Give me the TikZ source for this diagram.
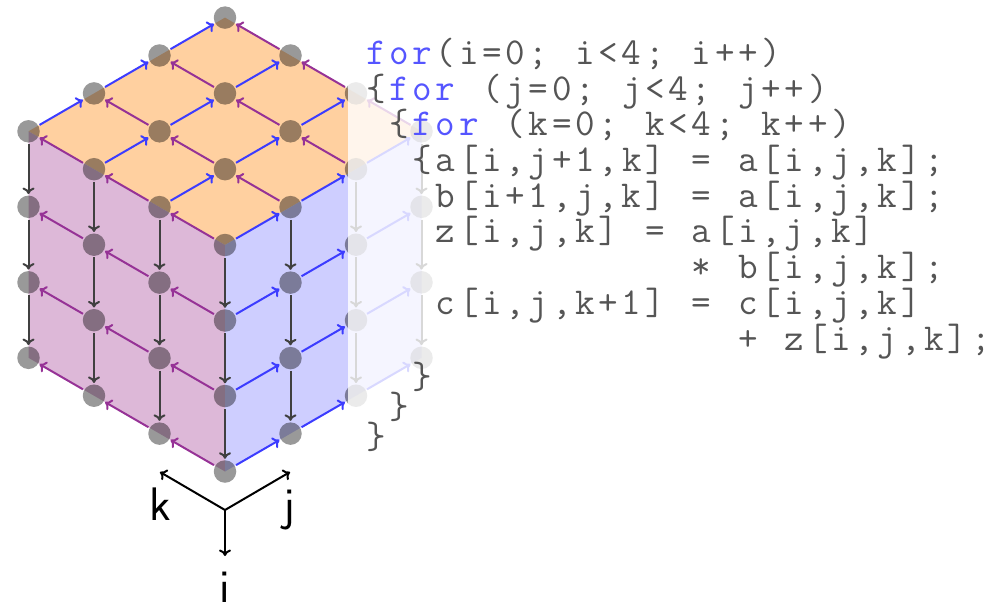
\documentclass[tikz,border=0pt]{standalone}
\usepackage{fontspec}
\usetikzlibrary{arrows.meta}
\definecolor{topc}{RGB}{255,208,160}
\definecolor{leftc}{RGB}{221,184,216}
\definecolor{rightc}{RGB}{206,206,255}
\definecolor{barrow}{RGB}{60,60,255}
\definecolor{parrow}{RGB}{150,50,150}
\definecolor{codec}{RGB}{85,85,85}
\definecolor{kwc}{RGB}{85,85,255}
\newlength\cw \setlength\cw{23.27pt}
\makeatletter
\newcommand\cl[1]{\@tfor\cc:=#1\do{\makebox[\cw][c]{\cc}}}
\makeatother
\newcommand\kw[1]{{\color{kwc}\cl{#1}}}
\tikzset{
  x=1pt,y=-1pt,
  tip/.style={-{Computer Modern Rightarrow[length=6.5pt,width=12pt]},line width=2pt},
  disc/.style={circle,fill=black,fill opacity=0.4,minimum size=22.5pt,inner sep=0pt,outer sep=1.5pt},
  jarrow/.style={tip,draw=barrow},
  karrow/.style={tip,draw=parrow},
  iarrow/.style={tip,draw=black!75},
  axisarrow/.style={tip,draw=black},
  codeline/.style={anchor=base west,inner sep=0pt,text=codec,font=\fontsize{38}{38}\selectfont\ttfamily},
  axislabel/.style={anchor=base,inner sep=0pt,text=black,font=\fontsize{47}{47}\selectfont\sffamily},
}
\begin{document}
\begin{tikzpicture}
\useasboundingbox (0,0) rectangle (1000,602);
\def\px#1#2{225+65.5*(#1-#2)}
\def\py#1#2#3{245-37.9*(#2+#3)+75.5*#1}
% faces
\fill[topc] (225,245) -- (421.5,131.3) -- (225,17.6) -- (28.5,131.3) -- cycle;
\fill[leftc] (225,245) -- (28.5,131.3) -- (28.5,357.8) -- (225,471.5) -- cycle;
\fill[rightc] (225,245) -- (421.5,131.3) -- (421.5,357.8) -- (225,471.5) -- cycle;
% nodes: left face, right face, top face
\foreach \i in {0,...,3}{
  \foreach \t in {0,...,3}{
    \node[disc] (n-\i-0-\t) at ({\px{0}{\t}},{\py{\i}{0}{\t}}) {};
    \ifnum\t>0 \node[disc] (n-\i-\t-0) at ({\px{\t}{0}},{\py{\i}{\t}{0}}) {};\fi
  }
}
\foreach \j in {1,...,3}{
  \foreach \k in {1,...,3}{
    \node[disc] (n-0-\j-\k) at ({\px{\j}{\k}},{\py{0}{\j}{\k}}) {};
  }
}
% top face arrows
\foreach \a/\b in {0/1,1/2,2/3}{
  \foreach \c in {0,...,3}{
    \draw[jarrow] (n-0-\a-\c) -- (n-0-\b-\c);
    \draw[karrow] (n-0-\c-\a) -- (n-0-\c-\b);
  }
}
% side face arrows
\foreach \p/\q in {1/1,2/2,3/3}{
  \foreach \a/\b in {0/1,1/2,2/3}{
    \draw[karrow] (n-\p-0-\a) -- (n-\p-0-\b);
    \draw[jarrow] (n-\p-\a-0) -- (n-\p-\b-0);
  }
}
\foreach \a/\b in {0/1,1/2,2/3}{
  \foreach \t in {0,...,3}{
    \draw[iarrow] (n-\a-0-\t) -- (n-\b-0-\t);
    \ifnum\t>0 \draw[iarrow] (n-\a-\t-0) -- (n-\b-\t-0);\fi
  }
}
% veil
\fill[white,opacity=0.8] (348,0) rectangle (1000,602);
% code
\node[codeline] (c1) at (364,64) {\kw{for}\cl{(i=0;~i<4;~i++)}};
\node[codeline] (c2) at (364,100) {\cl{\{}\kw{for}\cl{~(j=0;~j<4;~j++)}};
\node[codeline] (c3) at (364,135.5) {\cl{~\{}\kw{for}\cl{~(k=0;~k<4;~k++)}};
\node[codeline] (c4) at (364,171) {\cl{~~\{a[i,j+1,k]~=~a[i,j,k];}};
\node[codeline] (c5) at (364,207) {\cl{~~~b[i+1,j,k]~=~a[i,j,k];}};
\node[codeline] (c6) at (364,242.5) {\cl{~~~z[i,j,k]~=~a[i,j,k]}};
\node[codeline] (c7) at (364,278.5) {\cl{~~~~~~~~~~~~~~*~b[i,j,k];}};
\node[codeline] (c8) at (364,314) {\cl{~~~c[i,j,k+1]~=~c[i,j,k]}};
\node[codeline] (c9) at (364,350) {\cl{~~~~~~~~~~~~~~~~+~z[i,j,k];}};
\node[codeline] (c10) at (364,388) {\cl{~~\}}};
\node[codeline] (c11) at (364,418) {\cl{~\}}};
\node[codeline] (c12) at (364,448) {\cl{\}}};
% axes
\coordinate (o) at (225,510);
\coordinate (ax-i) at (225,556);
\coordinate (ax-k) at (160,472);
\coordinate (ax-j) at (290,472);
\draw[axisarrow] (o) -- (ax-i);
\draw[axisarrow] (o) -- (ax-k);
\draw[axisarrow] (o) -- (ax-j);
\node[axislabel] (lk) at (160,520) {k};
\node[axislabel] (lj) at (289,520) {j};
\node[axislabel] (li) at (225,602) {i};
\end{tikzpicture}
\end{document}
